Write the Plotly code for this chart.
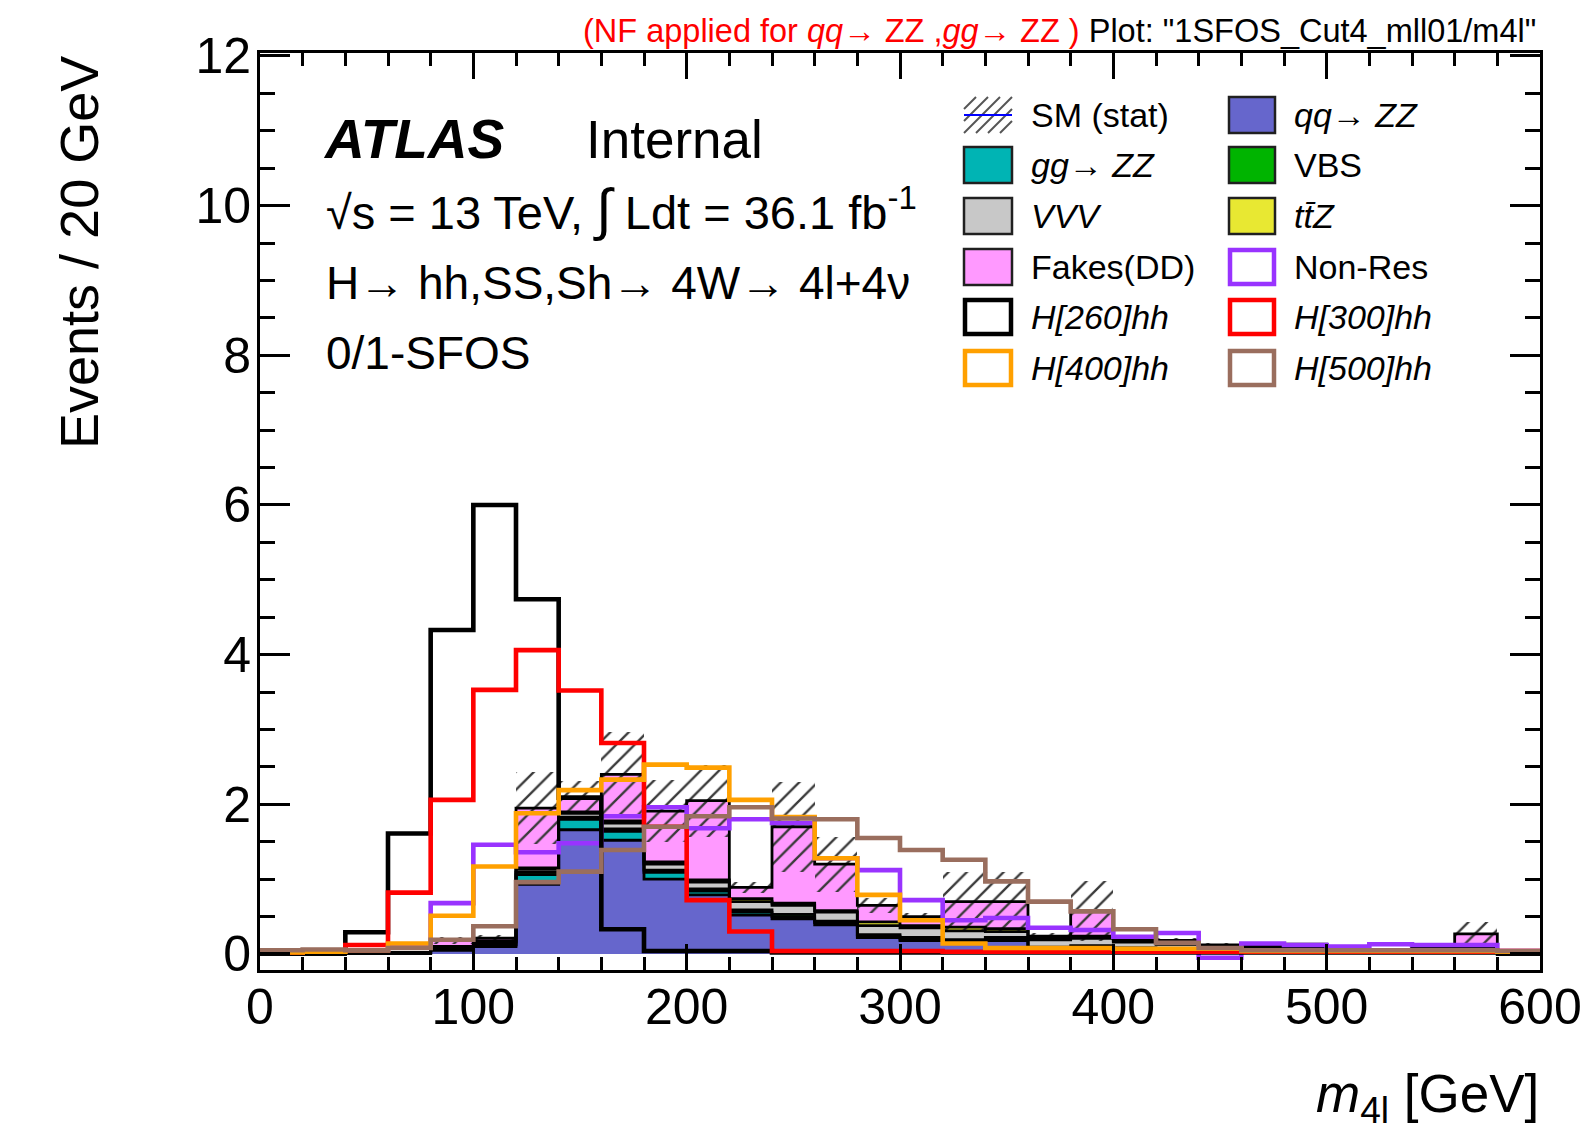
import numpy as np
import plotly.graph_objects as go

# ---------------- data ----------------
bin_edges = [0, 20, 40, 60, 80, 100, 120, 140, 160, 180, 200, 220, 240, 260, 280, 300,
             320, 340, 360, 380, 400, 420, 440, 460, 480, 500, 520, 540, 560, 580, 600]

qq_zz = [0, 0, 0.01, 0.01, 0.05, 0.10, 0.93, 1.66, 1.52, 1.00, 0.79, 0.52, 0.47, 0.39, 0.22,
         0.18, 0.15, 0.18, 0.06, 0.08, 0.05, 0.04, 0.03, 0.03, 0.03, 0.02, 0.02, 0.03, 0.03, 0.0]
gg_zz = [0, 0, 0, 0, 0.01, 0.02, 0.13, 0.14, 0.12, 0.09, 0.05, 0.04, 0.03, 0.03, 0.02,
         0.02, 0.02, 0.02, 0.01, 0.01, 0.01, 0.01, 0.01, 0.01, 0.01, 0, 0, 0.01, 0.01, 0]
vbs = [0, 0, 0, 0, 0.01, 0.01, 0.03, 0.03, 0.03, 0.03, 0.03, 0.03, 0.03, 0.02, 0.02,
       0.02, 0.02, 0.02, 0.02, 0.02, 0.02, 0.01, 0.01, 0.01, 0.01, 0.01, 0.01, 0.01, 0.01, 0]
vvv = [0, 0, 0, 0.01, 0.03, 0.03, 0.04, 0.05, 0.08, 0.08, 0.09, 0.11, 0.12, 0.12, 0.12,
       0.13, 0.12, 0.08, 0.10, 0.10, 0.08, 0.07, 0.05, 0.04, 0.05, 0.02, 0.02, 0.05, 0.04, 0]
ttz = [0, 0, 0, 0, 0, 0.01, 0.02, 0.02, 0.03, 0.03, 0.03, 0.04, 0.03, 0.02, 0.05,
       0.03, 0.05, 0.04, 0.02, 0.03, 0.02, 0.02, 0.01, 0.01, 0.01, 0.01, 0.01, 0.02, 0.02, 0]
fakes = [0, 0, 0, 0, 0.08, 0.04, 0.80, 0.19, 0.62, 0.68, 1.06, 0.15, 1.02, 0.62, 0.22,
         0.12, 0.34, 0.36, 0.03, 0.33, 0.02, 0.03, 0.01, 0.0, 0.02, 0.0, 0.0, 0.0, 0.16, 0]
sm_stat = [0, 0, 0.01, 0.02, 0.05, 0.05, 0.48, 0.22, 0.57, 0.42, 0.48, 0.07, 0.60, 0.37, 0.10,
           0.05, 0.40, 0.40, 0.04, 0.40, 0.03, 0.03, 0.03, 0.02, 0.02, 0.02, 0.02, 0.03, 0.16, 0]

non_res = [0.03, 0.03, 0.05, 0.10, 0.68, 1.46, 1.36, 1.48, 1.84, 1.96, 1.68, 1.80, 1.75, 1.28, 1.12,
           0.72, 0.45, 0.48, 0.35, 0.32, 0.23, 0.28, -0.05, 0.14, 0.12, 0.10, 0.13, 0.12, 0.12, 0.04]
h260 = [0.02, 0.03, 0.29, 1.61, 4.33, 6.00, 4.74, 2.09, 0.33, 0.04, 0.04, 0.04, 0.02, 0.02, 0.02,
        0.02, 0.02, 0.02, 0.02, 0.02, 0.02, 0.02, 0.02, 0.02, 0.02, 0.02, 0.02, 0.02, 0.02, 0.02]
h300 = [0.02, 0.04, 0.12, 0.82, 2.06, 3.53, 4.06, 3.52, 2.82, 1.70, 0.72, 0.30, 0.04, 0.04, 0.04,
        0.04, 0.03, 0.03, 0.03, 0.03, 0.03, 0.03, 0.03, 0.03, 0.03, 0.03, 0.03, 0.03, 0.03, 0.04]
h400 = [0.02, 0.03, 0.05, 0.14, 0.51, 1.17, 1.88, 2.19, 2.33, 2.53, 2.49, 2.06, 1.83, 1.28, 0.79,
        0.45, 0.14, 0.08, 0.08, 0.08, 0.07, 0.07, 0.07, 0.04, 0.04, 0.04, 0.04, 0.04, 0.04, 0.03]
h500 = [0.05, 0.06, 0.05, 0.08, 0.19, 0.37, 0.96, 1.10, 1.39, 1.70, 1.84, 1.96, 1.81, 1.80, 1.55,
        1.39, 1.26, 0.97, 0.70, 0.57, 0.33, 0.15, 0.08, 0.05, 0.05, 0.05, 0.05, 0.05, 0.05, 0.04]

x_ticks = [0, 100, 200, 300, 400, 500, 600]
y_ticks = [0, 2, 4, 6, 8, 10, 12]

# ---------------- styling ----------------
FONT = "Liberation Sans"
COL = dict(qq="#6666cc", gg="#00b4b4", vbs="#00b400", vvv="#c8c8c8", ttz="#e8e832",
           fakes="#ff99ff", nonres="#9933ff", h260="#000000", h300="#ff0000",
           h400="#ffa000", h500="#9a6e5e")

W, H = 1595, 1135
L, R, T, B = 260, 1540, 53, 970


def px(x):
    return (x - L) / (R - L)


def py(y):
    return (B - y) / (B - T)


edges = np.array(bin_edges, dtype=float)
centers = 0.5 * (edges[:-1] + edges[1:])
widths = edges[1:] - edges[:-1]

fig = go.Figure()

stack = [(qq_zz, COL["qq"]), (gg_zz, COL["gg"]), (vbs, COL["vbs"]),
         (vvv, COL["vvv"]), (ttz, COL["ttz"]), (fakes, COL["fakes"])]
cum = np.zeros(len(centers))
tops = []
for vals, c in stack:
    v = np.array(vals, dtype=float)
    fig.add_trace(go.Bar(x=centers, y=v, base=cum.copy(), width=widths,
                         marker=dict(color=c, line=dict(width=0)),
                         showlegend=False, hoverinfo="skip"))
    cum = cum + v
    tops.append(cum.copy())

for top in tops:
    fig.add_trace(go.Scatter(x=edges, y=list(top) + [top[-1]], mode="lines",
                             line=dict(shape="hv", color="black", width=2.8),
                             showlegend=False, hoverinfo="skip"))

total = cum
stat = np.array(sm_stat, dtype=float)
fig.add_trace(go.Bar(x=centers, y=2 * stat, base=total - stat, width=widths,
                     marker=dict(color="rgba(0,0,0,0)", line=dict(width=0),
                                 pattern=dict(shape="/", fgcolor="#3a3a3a",
                                              bgcolor="rgba(0,0,0,0)", size=13,
                                              solidity=0.18, fillmode="replace")),
                     showlegend=False, hoverinfo="skip"))

for vals, c in [(non_res, COL["nonres"]), (h260, COL["h260"]), (h300, COL["h300"]),
                (h400, COL["h400"]), (h500, COL["h500"])]:
    fig.add_trace(go.Scatter(x=edges, y=list(vals) + [vals[-1]], mode="lines",
                             line=dict(shape="hv", color=c, width=4.6),
                             showlegend=False, hoverinfo="skip"))

# ---------------- annotations ----------------
anns = []


def ann(text, x, y, size, xanchor="left", yanchor="middle", angle=0, color="black"):
    anns.append(dict(text=text, x=px(x), y=py(y), xref="paper", yref="paper",
                     xanchor=xanchor, yanchor=yanchor, showarrow=False, textangle=angle,
                     font=dict(family=FONT, size=size, color=color)))


ann("<span style='color:#ff0000'>(NF applied for <i>qq</i>→ ZZ ,<i>gg</i>→ ZZ )</span> "
    "Plot: \"1SFOS_Cut4_mll01/m4l\"", 1538, 31, 32.5, xanchor="right")
ann("<b><i>ATLAS</i></b>", 321, 139, 55)
ann("Internal", 584, 139, 53)
ann("√s = 13 TeV, <span style='font-size:57px'>∫</span> Ldt = 36.1 fb<sup>-1</sup>", 324, 209, 47)
ann("H→ hh,SS,Sh→ 4W→ 4l+4ν", 324, 283, 46)
ann("0/1-SFOS", 324, 353, 46)
ann("Events / 20 GeV", 79, 253, 54, xanchor="center", angle=-90)
ann("<i>m</i><sub>4l</sub> [GeV]", 1541, 1097, 53, xanchor="right")

# ---------------- legend (drawn manually) ----------------
shapes = []
rows = [115, 165, 216, 267, 317, 368]
col_box = [(964, 1012), (1229, 1275)]
col_txt = [1029, 1292]
half = 18
legend_items = [
    (0, 0, "SM (stat)", "hatch", None),
    (1, 0, "<i>qq</i>→ <i>ZZ</i>", "fill", COL["qq"]),
    (0, 1, "<i>gg</i>→ <i>ZZ</i>", "fill", COL["gg"]),
    (1, 1, "VBS", "fill", COL["vbs"]),
    (0, 2, "<i>VVV</i>", "fill", COL["vvv"]),
    (1, 2, "<i>tt̄Z</i>", "fill", COL["ttz"]),
    (0, 3, "Fakes(DD)", "fill", COL["fakes"]),
    (1, 3, "Non-Res", "line", COL["nonres"]),
    (0, 4, "<i>H[260]hh</i>", "line", COL["h260"]),
    (1, 4, "<i>H[300]hh</i>", "line", COL["h300"]),
    (0, 5, "<i>H[400]hh</i>", "line", COL["h400"]),
    (1, 5, "<i>H[500]hh</i>", "line", COL["h500"]),
]
for col, row, label, kind, c in legend_items:
    x0, x1 = col_box[col]
    yc = rows[row]
    if kind == "fill":
        shapes.append(dict(type="rect", xref="paper", yref="paper",
                           x0=px(x0), x1=px(x1), y0=py(yc + half), y1=py(yc - half),
                           fillcolor=c, line=dict(color="#202020", width=2.5)))
    elif kind == "line":
        shapes.append(dict(type="rect", xref="paper", yref="paper",
                           x0=px(x0 + 1), x1=px(x1 - 1), y0=py(yc + half - 1), y1=py(yc - half + 1),
                           fillcolor="white", line=dict(color=c, width=4.5)))
    else:
        step = 12
        yb, yt = yc + half, yc - half
        for k in range(-4, 6):
            xa = x0 + k * step
            xb = xa + (yb - yt)
            sx0, sy0, sx1, sy1 = xa, yb, xb, yt
            if sx0 < x0:
                sy0 = yb - (x0 - sx0)
                sx0 = x0
            if sx1 > x1:
                sy1 = yt + (sx1 - x1)
                sx1 = x1
            if sx1 - sx0 > 2:
                shapes.append(dict(type="line", xref="paper", yref="paper",
                                   x0=px(sx0), y0=py(sy0), x1=px(sx1), y1=py(sy1),
                                   line=dict(color="#555555", width=2)))
        shapes.append(dict(type="line", xref="paper", yref="paper",
                           x0=px(x0), x1=px(x1), y0=py(yc), y1=py(yc),
                           line=dict(color="#0000ff", width=2)))
    ann(label, col_txt[col], yc, 34)

axis_common = dict(showline=True, linecolor="black", linewidth=3, mirror="ticks",
                   ticks="inside", tickcolor="black", tickwidth=2.5,
                   showgrid=False, zeroline=False,
                   tickfont=dict(family=FONT, size=50, color="black"))

fig.update_layout(
    width=W, height=H,
    margin=dict(l=L, r=W - R, t=T, b=H - B, pad=0),
    paper_bgcolor="white", plot_bgcolor="white",
    barmode="overlay", bargap=0,
    showlegend=False,
    xaxis=dict(range=[0, 600], tickvals=x_ticks, ticklen=26,
               minor=dict(ticks="inside", ticklen=13, dtick=20, tick0=0,
                          tickcolor="black", tickwidth=2.5),
               ticklabelstandoff=-9, **axis_common),
    yaxis=dict(range=[-0.214, 12.04], tickvals=y_ticks, ticklen=30,
               minor=dict(ticks="inside", ticklen=15, dtick=0.5, tick0=0,
                          tickcolor="black", tickwidth=2.5),
               ticklabelstandoff=-4, **axis_common),
    annotations=anns,
    shapes=shapes,
)

fig.write_html("out.html")
